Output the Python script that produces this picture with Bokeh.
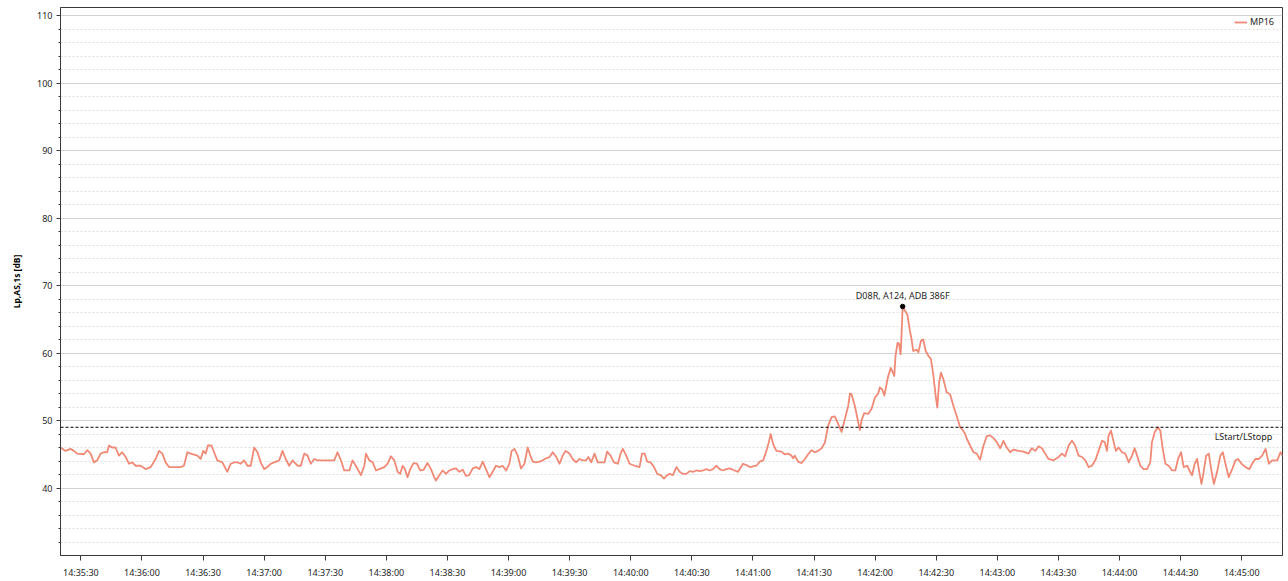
import pandas as pd
from bokeh.plotting import figure
from bokeh.models import (FixedTicker, SingleIntervalTicker, DatetimeTickFormatter,
                          Span, Range1d, Legend, LegendItem, ColumnDataSource)
from bokeh.core.properties import value
from bokeh.embed import file_html
from bokeh.resources import INLINE

# ---------------- data ----------------
start_time = "2024-01-01 14:35:20"
window_seconds = 600
series_name = "MP16"
y_label = "Lp,AS,1s [dB]"
threshold_db = 49.0
threshold_label = "LStart/LStopp"
peak_label = "D08R, A124, ADB 386F"
y_major_ticks = [40, 50, 60, 70, 80, 90, 100, 110]
y_minor_ticks = [32, 34, 36, 38, 42, 44, 46, 48, 52, 54, 56, 58, 62, 64, 66, 68,
                 72, 74, 76, 78, 82, 84, 86, 88, 92, 94, 96, 98, 102, 104, 106, 108]

t_sec = [
    0, 2.5, 4.9, 6.6, 8.2, 11.5, 13.1, 14.8, 16.4, 18.0, 19.7, 21.3, 22.9, 23.8, 25.4, 27.0,
    28.7, 30.3, 32.0, 33.6, 35.2, 36.9, 39.3, 41.8, 44.3, 46.7, 48.4, 50.0, 51.6, 53.3, 55.7,
    59.0, 60.6, 62.3, 63.9, 67.2, 68.8, 70.1, 71.3, 72.4, 74.1, 75.4, 77.0, 79.5, 81.9, 83.6,
    85.2, 86.9, 88.5, 90.1, 91.8, 93.4, 95.1, 96.7, 98.3, 100.0, 101.6, 103.3, 104.9, 107.4,
    109.0, 110.6, 112.3, 113.9, 116.4, 118.0, 119.7, 121.3, 122.9, 124.6, 126.2, 128.7, 131.1,
    132.8, 134.4, 136.0, 137.7, 139.3, 141.8, 143.4, 145.0, 147.5, 149.2, 150.0, 151.6, 153.3,
    154.9, 156.5,
    159.0, 160.6, 162.2, 163.9, 165.5, 166.8, 168.0, 169.1, 170.4, 171.7, 173.4, 175.0, 176.6,
    178.3, 180.2, 181.9, 183.5, 184.3, 186.0, 187.6, 189.3, 190.9, 192.5, 194.2, 195.8, 197.5,
    199.1, 200.7, 202.4, 204.0, 205.7, 207.3, 208.9, 210.6, 212.2, 213.8, 215.5, 217.1, 218.8,
    220.4, 221.5, 222.9, 224.5, 226.1, 227.8, 229.4, 230.7, 231.9, 233.5, 235.2, 236.8, 238.4,
    240.1, 241.7, 243.4, 245.0, 246.6, 248.0, 249.9, 251.5, 253.2, 254.8, 256.5, 258.1, 259.2,
    260.6, 262.2, 263.8, 265.5, 267.1, 268.4, 270.1, 271.7, 273.7, 275.0, 276.1, 277.8, 279.4,
    281.9, 284.3, 285.5, 286.8, 288.1, 289.7, 291.4, 293.0, 294.7, 296.3, 297.9, 299.1, 300.7,
    302.4, 304.0, 305.6, 307.3, 308.9, 310.5, 312.2, 313.8, 315.5, 317.1, 318.7, 320.4, 322.0,
    323.7, 325.3, 326.9, 328.6,
    331.0, 332.7, 335.1, 336.8, 338.4, 340.1, 341.7, 343.3, 345.0, 346.6, 347.8, 348.7, 349.9,
    351.5, 354.0, 355.6, 357.3, 358.9, 359.7, 360.5, 362.2, 363.8, 365.5, 367.1, 368.7, 370.4,
    372.0, 373.7, 375.3, 376.9, 378.6, 380.2, 381.8, 383.5, 385.1, 386.8, 387.6, 388.4, 390.0,
    391.7, 392.5, 393.3, 394.6, 396.6, 398.2, 399.9, 401.5, 402.3, 403.5, 404.5, 405.6, 406.4,
    407.7, 409.4, 410.0, 411.0, 411.7, 412.5, 413.0, 413.5, 414.6, 415.8, 417.1, 417.9, 418.7,
    420.4, 421.2, 422.5, 423.6, 424.8, 426.1, 427.4, 428.6, 429.7, 430.5, 431.4, 432.3, 433.5,
    435.1, 436.8, 438.4,
    440.0, 441.7, 442.5, 444.2, 445.0, 446.6, 448.3, 449.9, 451.5, 453.2, 454.8, 456.5, 458.1,
    459.7, 461.4, 463.0, 464.6, 466.3, 467.9, 470.4, 472.8, 475.3, 476.9, 478.6, 480.2, 481.9,
    483.5, 485.1, 487.6, 490.1, 491.7, 493.3, 495.0, 496.6, 498.2, 499.9, 501.5, 503.2, 504.8,
    506.4, 508.1, 509.7, 511.4, 512.7, 513.8, 514.6, 515.8, 517.1, 518.2, 519.5, 521.2, 522.8,
    524.5, 526.1, 527.4, 528.6, 530.2, 531.8, 533.5, 535.1, 535.9, 537.3, 538.9, 540.0, 541.2,
    542.5, 544.1, 545.8, 547.4, 548.7, 550.2, 551.5, 553.2, 554.3, 555.6, 556.9, 558.1, 558.9,
    560.2, 561.3, 562.5, 563.8, 565.1, 566.3, 567.9, 569.5, 570.7, 572.0, 573.6, 575.3, 576.9,
    578.2, 579.9, 581.8, 583.8, 585.1, 586.7, 588.4, 590.0, 591.7, 593.3, 594.9, 597.4, 599.0,
    600.0,
]

level_db = [
    46.0, 45.5, 45.8, 45.5, 45.1, 45.0, 45.6, 45.1, 43.8, 44.1, 45.1, 45.3, 45.3, 46.3, 46.0, 46.0,
    44.8, 45.3, 44.6, 43.6, 43.8, 43.3, 43.3, 42.8, 43.1, 44.3, 45.5, 45.1, 43.8, 43.1, 43.1,
    43.1, 43.3, 45.3, 45.1, 44.8, 44.3, 45.5, 45.1, 46.3, 46.3, 45.3, 44.1, 43.8, 42.4, 43.6,
    43.8, 43.8, 43.6, 44.1, 43.3, 43.3, 46.0, 45.3, 43.8, 42.8, 43.1, 43.6, 43.8, 44.1,
    45.5, 44.3, 43.3, 44.1, 43.3, 43.3, 45.1, 44.8, 43.6, 44.3, 44.1, 44.1, 44.1,
    44.1, 44.1, 45.3, 44.1, 42.6, 42.6, 44.1, 43.3, 41.9, 43.3, 45.1, 44.1, 43.8,
    42.6, 42.8,
    43.1, 43.6, 44.7, 44.1, 42.4, 42.1, 43.3, 42.8, 41.6, 42.8, 43.7, 43.6, 42.6,
    42.7, 43.7, 42.8, 41.6, 41.1, 41.9, 42.6, 42.1, 42.6, 42.8, 42.9, 42.4, 42.7,
    41.8, 41.9, 42.9, 43.1, 42.8, 43.9, 42.8, 41.6, 42.4, 43.3, 43.1, 43.3, 42.6,
    43.6, 45.5, 45.8, 44.8, 42.9, 43.6, 46.0, 44.8, 43.9, 43.8, 43.9, 44.1, 44.4,
    44.6, 45.3, 44.6, 43.6, 44.8, 45.5, 45.1, 44.3, 43.8, 44.3, 44.1, 44.1, 44.6,
    43.8, 45.1, 43.8, 43.8, 43.8, 45.4, 44.8, 43.8, 43.6, 45.1, 45.8, 44.8, 43.6,
    43.3, 43.1, 45.1, 45.1, 43.9, 43.8, 43.1, 42.1, 41.9, 41.4, 41.9, 42.1, 41.9,
    43.1, 42.4, 42.1, 42.1, 42.5, 42.4, 42.6, 42.5, 42.6, 42.8, 42.6, 42.8, 43.3,
    42.8, 42.6, 42.8, 42.9,
    42.6, 42.4, 43.6, 43.4, 43.1, 43.2, 43.3, 43.9, 44.1, 45.5, 46.8, 48.0, 46.5,
    45.5, 45.4, 45.0, 45.1, 44.8, 44.4, 44.8, 43.9, 43.7, 44.3, 45.0, 45.6, 45.3,
    45.5, 45.9, 46.7, 49.2, 50.5, 50.6, 49.5, 48.3, 50.2, 52.2, 54.0, 53.9, 52.2,
    49.7, 48.6, 50.0, 51.1, 51.0, 51.7, 53.4, 54.0, 54.9, 54.6, 53.7, 55.4, 56.6,
    57.8, 56.6, 59.6, 61.5, 61.4, 59.8, 63.0, 66.9, 66.3, 65.7, 63.2, 62.0, 60.3,
    60.5, 60.1, 61.8, 62.0, 60.3, 59.6, 59.1, 56.6, 53.7, 51.9, 55.6, 57.1, 56.1,
    54.2, 53.9, 52.2,
    50.7, 49.0, 48.8, 48.0, 47.3, 46.3, 45.3, 45.1, 44.2, 46.3, 47.7, 47.8, 47.4,
    46.8, 45.9, 47.0, 46.0, 45.3, 45.7, 45.5, 45.4, 45.1, 45.9, 45.5, 46.2, 45.9,
    45.1, 44.3, 44.1, 44.6, 45.1, 44.7, 46.3, 47.0, 46.3, 44.8, 44.6, 44.1, 43.1,
    43.3, 44.1, 45.5, 47.0, 46.8, 45.5, 47.8, 48.5, 46.8, 45.5, 46.0, 45.3, 45.1,
    43.8, 44.8, 45.9, 44.8, 43.3, 42.8, 42.8, 43.8, 46.8, 48.3, 49.0, 48.5, 45.8,
    43.6, 43.3, 42.6, 42.6, 44.3, 45.3, 43.1, 43.3, 42.6, 41.9, 43.6, 44.3, 42.8,
    40.6, 42.4, 44.8, 45.1, 42.6, 40.6, 42.4, 44.8, 45.3, 43.6, 41.6, 42.8, 44.1,
    44.3, 43.6, 43.1, 42.8, 43.6, 44.3, 44.3, 44.8, 45.8, 43.6, 44.1, 44.1, 45.3,
    44.8,
]

# ---------------- build ----------------
start = pd.Timestamp(start_time)
end = start + pd.Timedelta(seconds=window_seconds)
times = [start + pd.Timedelta(seconds=s) for s in t_sec]
src = ColumnDataSource(data=dict(t=times, v=level_db))

ipk = max(range(len(level_db)), key=lambda i: level_db[i])
peak_src = ColumnDataSource(data=dict(t=[times[ipk]], v=[level_db[ipk]], txt=[peak_label]))
thr_src = ColumnDataSource(data=dict(t=[end - pd.Timedelta(seconds=5)], v=[threshold_db],
                                     txt=[threshold_label]))

FONT = "Noto Sans"
TXT = "#1e1e1e"
LINE_COLOR = "#F08A76"

p = figure(width=1288, height=581, x_axis_type="datetime",
           output_backend="svg", toolbar_location=None,
           x_range=Range1d(start, end), y_range=Range1d(30, 111.2),
           min_border_left=60, min_border_right=6, min_border_top=7, min_border_bottom=24)

p.background_fill_color = "white"
p.border_fill_color = "white"
p.outline_line_color = "#3a3a3a"
p.outline_line_width = 1

r = p.line("t", "v", source=src, line_color=LINE_COLOR, line_width=1.8, line_join="round")

# threshold
p.add_layout(Span(location=threshold_db, dimension="width", line_color="black",
                  line_dash="3 2", line_width=1))
p.text("t", "v", text="txt", source=thr_src, text_font=value(FONT), text_font_size="9px",
       text_color=TXT, text_align="right", text_baseline="top", y_offset=3)

# peak marker + label
p.scatter("t", "v", source=peak_src, size=4.5, color="black")
p.text("t", "v", text="txt", source=peak_src, text_font=value(FONT), text_font_size="9px",
       text_color=TXT, text_align="center", text_baseline="bottom", y_offset=-4)

# y axis
p.yaxis.ticker = FixedTicker(ticks=y_major_ticks, minor_ticks=y_minor_ticks)
p.yaxis.axis_label = y_label
p.yaxis.axis_label_text_font = FONT
p.yaxis.axis_label_text_font_size = "8.5px"
p.yaxis.axis_label_text_font_style = "bold"
p.yaxis.axis_label_text_color = "black"
p.yaxis.axis_label_standoff = 12
p.yaxis.major_label_text_font = FONT
p.yaxis.major_label_text_font_size = "9px"
p.yaxis.major_label_text_color = TXT
p.yaxis.major_label_standoff = 4
p.yaxis.major_tick_in = 0
p.yaxis.major_tick_out = 4
p.yaxis.minor_tick_in = 0
p.yaxis.minor_tick_out = 2
p.yaxis.axis_line_color = "#3a3a3a"
p.yaxis.major_tick_line_color = "#3a3a3a"
p.yaxis.minor_tick_line_color = "#3a3a3a"

# x axis
p.xaxis.ticker = SingleIntervalTicker(interval=30000, num_minor_ticks=0)
fmt = "%H:%M:%S"
p.xaxis.formatter = DatetimeTickFormatter(seconds=fmt, minsec=fmt, minutes=fmt,
                                          hourmin=fmt, hours=fmt, milliseconds=fmt)
p.xaxis.major_label_text_font = FONT
p.xaxis.major_label_text_font_size = "9px"
p.xaxis.major_label_text_color = TXT
p.xaxis.major_label_standoff = 5
p.xaxis.major_tick_in = 0
p.xaxis.major_tick_out = 5
p.xaxis.minor_tick_line_color = None
p.xaxis.axis_line_color = "#3a3a3a"
p.xaxis.major_tick_line_color = "#3a3a3a"

# grids
p.xgrid.grid_line_color = None
p.ygrid.grid_line_color = "#d2d2d2"
p.ygrid.grid_line_width = 1
p.ygrid.minor_grid_line_color = "#dedede"
p.ygrid.minor_grid_line_dash = "2 2"

# legend
legend = Legend(items=[LegendItem(label=series_name, renderers=[r])], location="top_right",
                border_line_color=None, background_fill_alpha=0,
                label_text_font=FONT, label_text_font_size="9px", label_text_color=TXT,
                glyph_width=13, glyph_height=10, label_standoff=3, margin=8, padding=4,
                spacing=0, label_height=12)
p.add_layout(legend)

open("out.html", "w").write(file_html(p, INLINE))
